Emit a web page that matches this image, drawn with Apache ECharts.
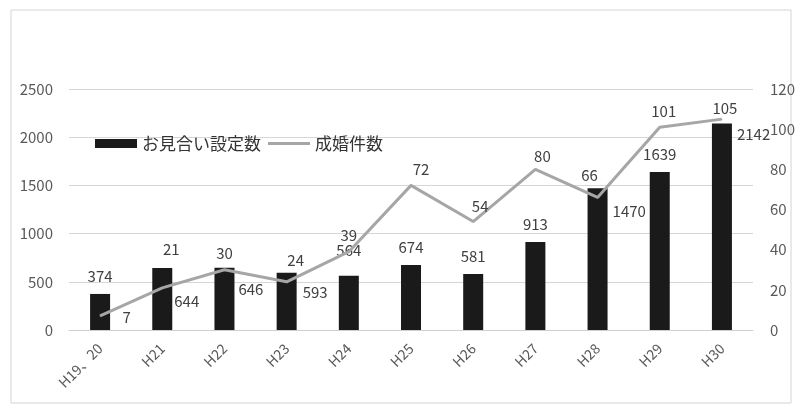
<!DOCTYPE html>
<html><head><meta charset="utf-8">
<script src="https://cdn.jsdelivr.net/npm/echarts@6/dist/echarts.min.js"></script>
<style>html,body{margin:0;padding:0;background:#fff}#c{width:798px;height:407px}</style>
</head><body><div id="c"></div>
<script>
var categories = ['H19、20','H21','H22','H23','H24','H25','H26','H27','H28','H29','H30'];
var meetings = [374,644,646,593,564,674,581,913,1470,1639,2142];
var marriages = [7,21,30,24,39,72,54,80,66,101,105];
var leftTicks = [0,500,1000,1500,2000,2500];
var rightTicks = [0,20,40,60,80,100,120];

var font = '"Noto Sans CJK JP", "Liberation Sans", sans-serif';
// label placement tweaks (style only)
var barRight = {1:[-8,2],2:[-6,-10],3:[-4,-9],8:[-5,-48],10:[-5,-92]};
var barTopOff = {4:[0,-8]};
var barData = meetings.map(function(v,i){
  var o = {value:v};
  if (barRight[i]) o.label = {position:'right', offset:barRight[i]};
  else if (barTopOff[i]) o.label = {offset:barTopOff[i]};
  return o;
});
var lineRight = {0:[14,1]};
var lineTopOff = {1:[9,-23],3:[9,-6],5:[10,0],6:[7,1],7:[7,3],8:[-8,-6],9:[4,0],10:[3,5]};
var lineData = marriages.map(function(v,i){
  var o = {value:v};
  if (lineRight[i]) o.label = {position:'right', offset:lineRight[i]};
  else if (lineTopOff[i]) o.label = {offset:lineTopOff[i]};
  return o;
});

var chart = echarts.init(document.getElementById('c'), null, {renderer:'canvas'});
chart.setOption({
  animation:false,
  backgroundColor:'#fff',
  textStyle:{fontFamily:font},
  graphic:[{type:'rect', shape:{x:11,y:10,width:780,height:393}, style:{fill:'none', stroke:'#d4d4d4', lineWidth:1}, silent:true}],
  legend:{
    left:90, top:130, itemGap:7, itemWidth:42, itemHeight:9,
    textStyle:{fontSize:17, color:'#333', fontFamily:font},
    data:[{name:'お見合い設定数', icon:'rect'},
          {name:'成婚件数', icon:'path://M0,0H42V3H0Z', itemStyle:{color:'#a6a6a6'}}]
  },
  grid:{left:69, right:43, top:89, bottom:77},
  xAxis:{
    type:'category', data:categories,
    axisLine:{lineStyle:{color:'#cfcfcf'}}, axisTick:{show:false},
    axisLabel:{rotate:45, color:'#595959', fontSize:14, margin:16, fontFamily:font, interval:0}
  },
  yAxis:[
    {type:'value', min:0, max:2500, interval:500,
     axisLabel:{color:'#595959', fontSize:15, margin:16, formatter:function(v){return String(v);}},
     splitLine:{lineStyle:{color:'#d6d6d6'}}, axisLine:{show:false}, axisTick:{show:false}},
    {type:'value', min:0, max:120, interval:20,
     axisLabel:{color:'#595959', fontSize:15, margin:17},
     splitLine:{show:false}, axisLine:{show:false}, axisTick:{show:false}}
  ],
  series:[
    {name:'お見合い設定数', type:'bar', data:barData, barWidth:20, yAxisIndex:0,
     itemStyle:{color:'#1a1a1a'},
     label:{show:true, position:'top', distance:10, color:'#404040', fontSize:15}},
    {name:'成婚件数', type:'line', data:lineData, yAxisIndex:1,
     lineStyle:{color:'#a6a6a6', width:3}, itemStyle:{color:'#a6a6a6'},
     symbol:'circle', symbolSize:1, showSymbol:true, z:3,
     label:{show:true, position:'top', distance:8, color:'#404040', fontSize:15}}
  ]
});
</script></body></html>
